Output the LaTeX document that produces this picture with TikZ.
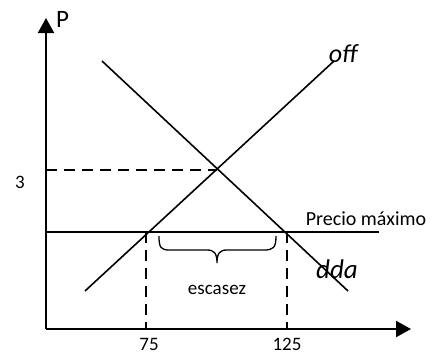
\documentclass[tikz,border=0pt]{standalone}
\usepackage{fontspec}
\setmainfont{Carlito}
\usetikzlibrary{arrows.meta}
\begin{document}
\begin{tikzpicture}[x=1pt,y=-1pt,
  curve/.style={line width=1.6pt},
  axis/.style={line width=2.2pt,-{Triangle[length=15pt,width=16pt]}},
  guide/.style={line width=2pt,dash pattern=on 11pt off 7pt},
  lbl/.style={inner sep=0pt,font=\fontsize{19}{19}\selectfont}]
\useasboundingbox (0,0) rectangle (443,354);
% axes
\coordinate (O) at (46,329);
\coordinate (Ytop) at (46,18);
\coordinate (Xend) at (411,329);
\draw[axis] (O) -- (Ytop);
\draw[axis] (O) -- (Xend);
\node[anchor=base west,inner sep=0pt,font=\fontsize{25}{25}\selectfont] (P) at (56,27) {P};
% curves
\coordinate (S1) at (85,291);
\coordinate (S2) at (334,61);
\coordinate (D1) at (102,61);
\coordinate (D2) at (348,291);
\draw[curve] (S1) -- (S2);
\draw[curve] (D1) -- (D2);
\node[anchor=base,inner sep=0pt,font=\itshape\fontsize{26}{26}\selectfont] (off) at (343,62) {off};
\node[anchor=base,inner sep=0pt,font=\itshape\fontsize{27}{27}\selectfont] (dda) at (337,278) {dda};
% equilibrium
\coordinate (E) at (217,170);
\coordinate (E0) at (46,170);
\draw[guide] (E0) -- (E);
\node[lbl,anchor=base] (three) at (20,188) {3};
% price ceiling
\coordinate (C0) at (46,232);
\coordinate (C1) at (379,232);
\draw[curve,line width=1.8pt] (C0) -- (C1);
\node[anchor=base,inner sep=0pt,font=\fontsize{20}{20}\selectfont] (pm) at (366,225) {Precio máximo};
\coordinate (Q1) at (146,232);
\coordinate (Q1b) at (146,329);
\coordinate (Q2) at (287,232);
\coordinate (Q2b) at (287,329);
\draw[guide] (Q1) -- (Q1b);
\draw[guide] (Q2) -- (Q2b);
\node[lbl,anchor=base] (q75) at (149,350) {75};
\node[lbl,anchor=base] (q125) at (287,350) {125};
% brace
\draw[line width=1.3pt] (159,236) .. controls (159,248) and (161,250) .. (170,250) -- (207,250)
  .. controls (214,250) and (217,253) .. (217,263)
  .. controls (217,253) and (220,250) .. (227,250) -- (264,250)
  .. controls (273,250) and (276,248) .. (276,236);
\node[lbl,anchor=base] (esc) at (217,294) {escasez};
\end{tikzpicture}
\end{document}
